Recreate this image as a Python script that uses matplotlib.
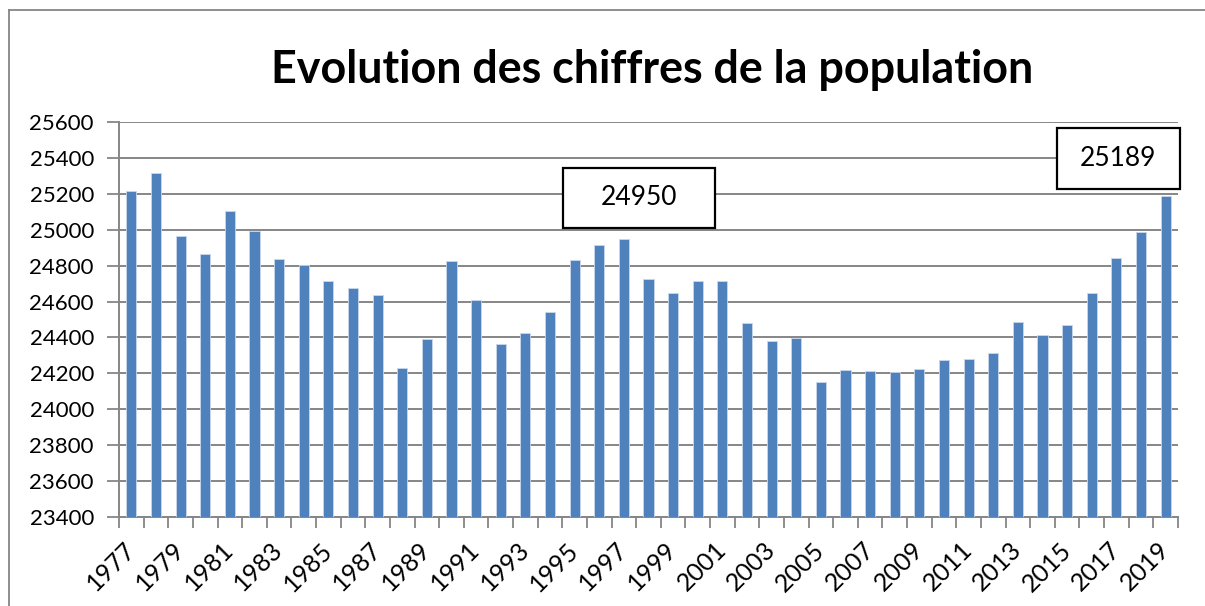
import matplotlib
matplotlib.use("Agg")
import matplotlib.pyplot as plt
import matplotlib.transforms as mtransforms
from matplotlib.patches import Rectangle
from matplotlib.lines import Line2D
import numpy as np

years = list(range(1977, 2020))
population = [25216, 25316, 24965, 24864, 25104, 24991, 24838, 24801, 24715, 24673,
              24637, 24228, 24390, 24825, 24606, 24364, 24423, 24539, 24834, 24913,
              24950, 24728, 24648, 24715, 24714, 24483, 24382, 24397, 24152, 24217,
              24211, 24207, 24224, 24276, 24278, 24313, 24488, 24412, 24468, 24645,
              24842, 24987, 25189]
title = "Evolution des chiffres de la population"
y_ticks = [23400, 23600, 23800, 24000, 24200, 24400, 24600, 24800, 25000, 25200, 25400, 25600]
highlight_years = [1997, 2019]

plt.rcParams['font.family'] = ['Lato', 'DejaVu Sans']
GRID = '#868686'
BAR = '#4F81BD'

fig = plt.figure(figsize=(12.05, 6.06), dpi=100)
ax = fig.add_axes([119/1205, 1 - 517/606, (1178 - 119)/1205, (517 - 122)/606])

x = np.arange(len(years))
ax.bar(x, population, width=0.41, color=BAR, edgecolor='#C9D8EC', linewidth=0.6, zorder=3)

ax.set_xlim(-0.5, len(years) - 0.5)
ax.set_ylim(y_ticks[0], y_ticks[-1])
ax.set_yticks(y_ticks)
ax.set_yticklabels([str(v) for v in y_ticks], fontsize=16)
ax.yaxis.grid(True, color=GRID, linewidth=1.4, zorder=0)
ax.set_axisbelow(True)

# x ticks: labels every other year, tick marks at category boundaries
ax.set_xticks(x[::2])
xlabels = ax.set_xticklabels([str(y) for y in years[::2]], fontsize=18, rotation=45,
                             ha='right', va='center', rotation_mode='anchor')
shift = mtransforms.ScaledTranslation(6/100, 0, fig.dpi_scale_trans)
for lab in xlabels:
    lab.set_transform(lab.get_transform() + shift)
ax.set_xticks(np.arange(-0.5, len(years)), minor=True)
ax.tick_params(axis='x', which='major', length=0, pad=21)
ax.tick_params(axis='x', which='minor', length=8, width=1.3, color=GRID, direction='out')
ax.tick_params(axis='y', length=9, width=1.3, color=GRID, direction='out', pad=9)

for s in ['top', 'right']:
    ax.spines[s].set_visible(False)
for s in ['left', 'bottom']:
    ax.spines[s].set_color(GRID)
    ax.spines[s].set_linewidth(1.4)

# value boxes
box_specs = {1997: (-61, 11, 152, 60), 2019: (-109, 7, 123, 61)}
for yr in highlight_years:
    i = years.index(yr)
    v = population[i]
    dx, dy, w, h = box_specs[yr]
    trans = mtransforms.Affine2D().translate(dx, dy) + mtransforms.ScaledTranslation(i, v, ax.transData)
    rect = Rectangle((0, 0), w, h, transform=trans, facecolor='white', edgecolor='black',
                     linewidth=1.6, clip_on=False, zorder=5)
    ax.add_patch(rect)
    ax.annotate(str(v), xy=(i, v), xytext=(dx + w / 2, dy + h / 2), textcoords='offset pixels',
                ha='center', va='center', fontsize=19, color='black', zorder=6,
                annotation_clip=False)

fig.text(652/1205, 1 - 83/606, title, ha='center', va='baseline', fontsize=32.3,
         fontweight='bold', color='black')

# chart border (top and left visible)
fig.add_artist(Line2D([9/1205, 1], [1 - 10/606, 1 - 10/606], color=GRID, linewidth=1.3,
                      transform=fig.transFigure))
fig.add_artist(Line2D([9/1205, 9/1205], [0, 1 - 10/606], color=GRID, linewidth=1.3,
                      transform=fig.transFigure))

fig.savefig('out.png', dpi=100)
